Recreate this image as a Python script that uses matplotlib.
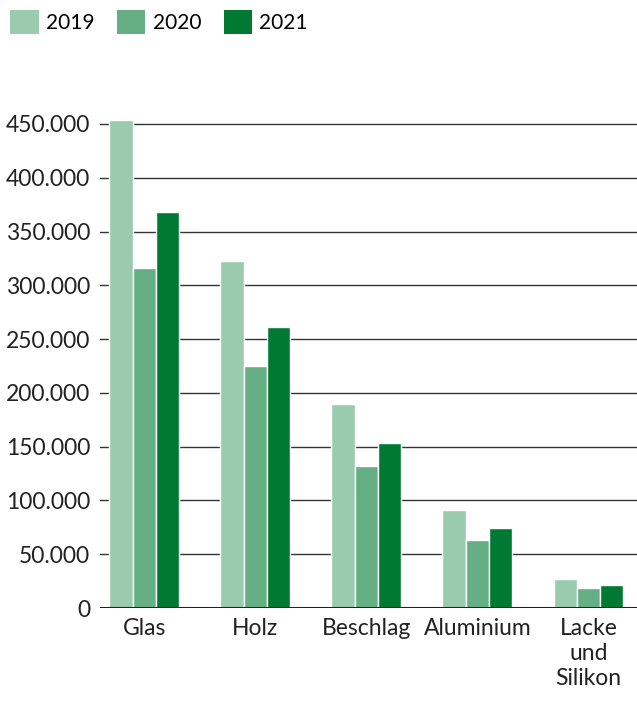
import numpy as np
import matplotlib.pyplot as plt
from matplotlib.patches import Patch
from matplotlib.ticker import FuncFormatter

plt.rcParams['font.family'] = ['Lato', 'DejaVu Sans']

categories = ['Glas', 'Holz', 'Beschlag', 'Aluminium', 'Lacke\nund\nSilikon']
years = ['2019', '2020', '2021']
values_2019 = [454000, 323000, 190000, 91000, 26500]
values_2020 = [316000, 225000, 132000, 63000, 18500]
values_2021 = [368000, 261000, 153000, 74000, 21500]
colors = ['#9acbae', '#66af85', '#007a33']

fig = plt.figure(figsize=(6.37, 7.02), dpi=100)
ax = fig.add_axes([0.157, 0.1339, 0.843, 0.7048])

x = np.arange(len(categories))
width = 0.21
for i, (vals, col) in enumerate(zip([values_2019, values_2020, values_2021], colors)):
    ax.bar(x + (i - 1) * width, vals, width, color=col, edgecolor='white',
           linewidth=1, zorder=3)

ax.set_xlim(-0.40, 4.437)
ax.set_ylim(0, 460000)
ax.set_yticks(np.arange(0, 450001, 50000))
ax.yaxis.set_major_formatter(FuncFormatter(
    lambda v, p: '0' if v == 0 else f'{int(v):,}'.replace(',', '.')))
ax.grid(axis='y', color='#333333', linewidth=1, zorder=0)
ax.axhline(0, color='#222222', linewidth=2.2, zorder=4)
for s in ax.spines.values():
    s.set_visible(False)
ax.tick_params(axis='y', length=0, pad=7, labelsize=16.5, labelcolor='#222222')
ax.tick_params(axis='x', length=0, pad=7, labelsize=16.5, labelcolor='#222222')
ax.set_xticks(x)
ax.set_xticklabels(categories, va='top', linespacing=1.25)

handles = [Patch(facecolor=c, edgecolor='none') for c in colors]
fig.legend(handles, years, loc='upper left', bbox_to_anchor=(0.0, 1.0),
           ncol=3, frameon=False, fontsize=15, handlelength=1.35,
           handleheight=1.35, handletextpad=0.35, columnspacing=1.1,
           borderaxespad=0.25, borderpad=0.25)

fig.savefig('out.png', dpi=100)
